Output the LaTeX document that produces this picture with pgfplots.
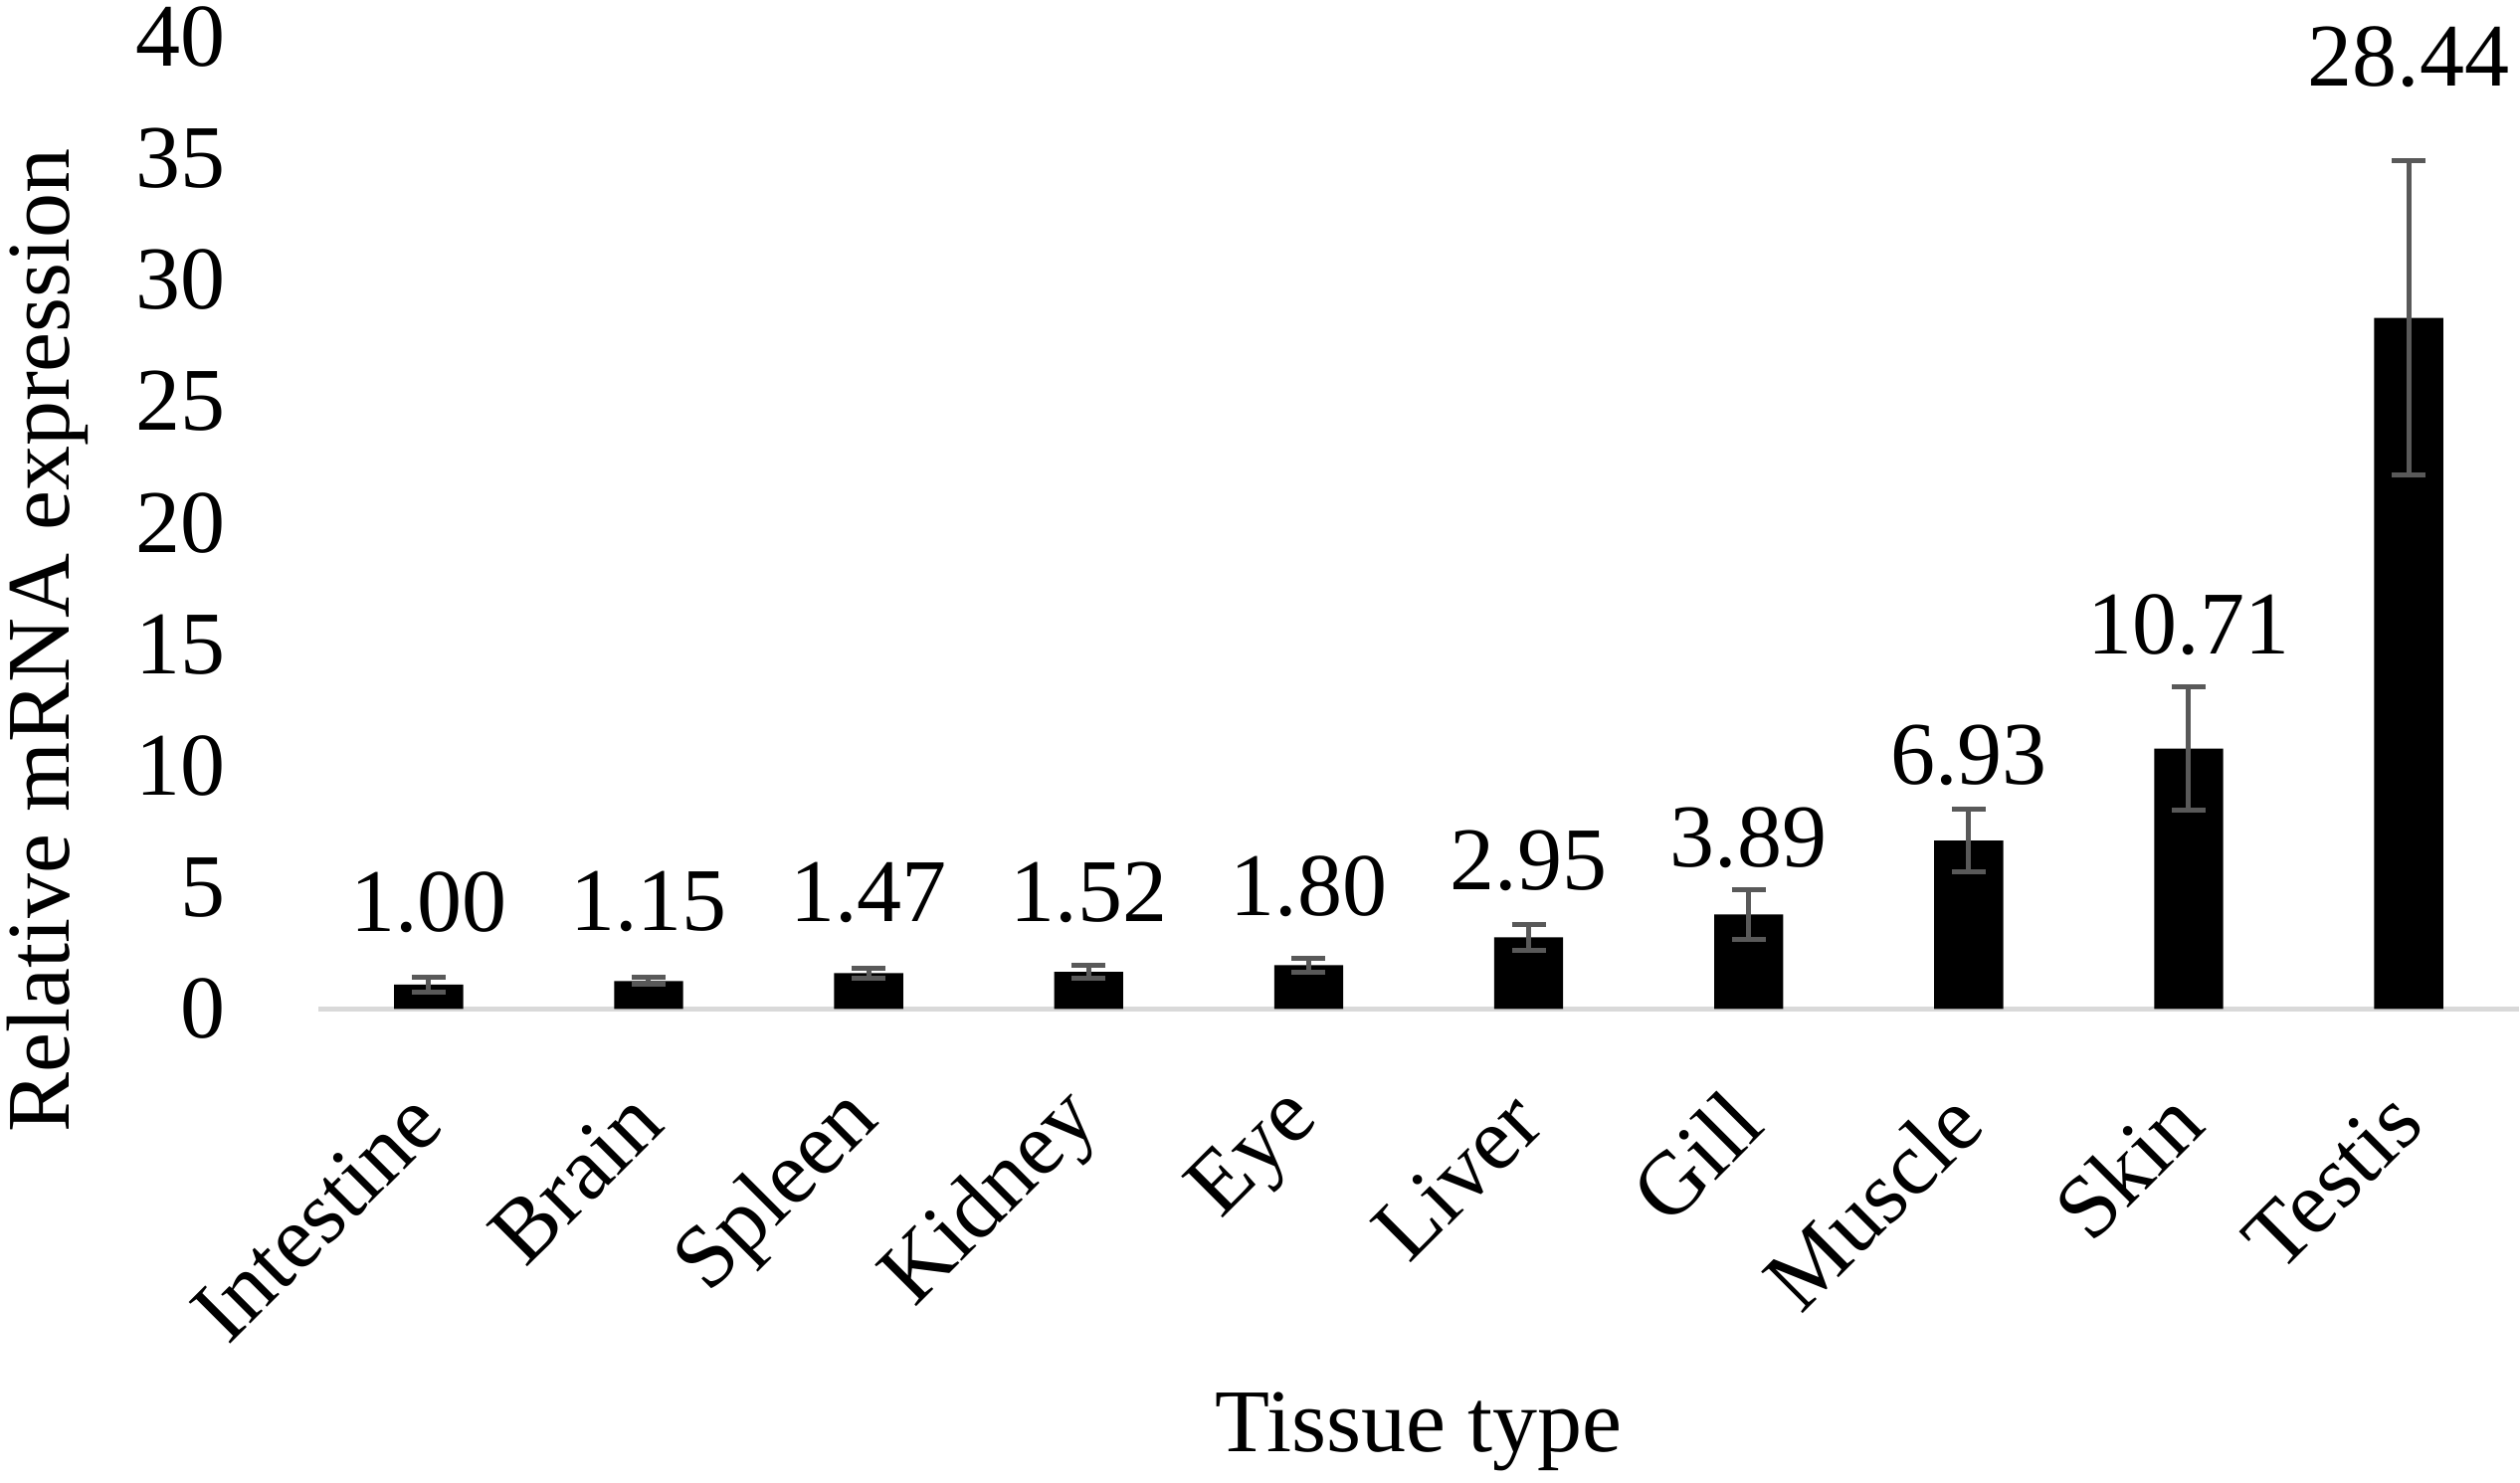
\documentclass[border=0pt]{standalone}
\usepackage{pgfplots}
\usepackage{pgfplotstable}
\usepackage{fontspec}
\setmainfont{Liberation Serif}
\pgfplotsset{compat=1.18}
\definecolor{axgray}{HTML}{D9D9D9}
\definecolor{errgray}{HTML}{595959}
\pgfplotstableread{
x  y     err   ly     lab
0  1.00  0.31  4.37   1.00
1  1.15  0.14  4.40   1.15
2  1.47  0.21  4.78   1.47
3  1.52  0.27  4.78   1.52
4  1.80  0.28  5.05   1.80
5  2.95  0.54  6.09   2.95
6  3.89  1.03  7.06   3.89
7  6.93  1.28  10.43  6.93
8  10.71 2.55  15.79  10.71
9  28.44 6.47  39.18  28.44
}\data
\begin{document}
\begin{tikzpicture}
\begin{axis}[
  name=ax,
  scale only axis,
  width=663.5pt, height=293.2pt,
  xmin=-0.5, xmax=9.5,
  ymin=0, ymax=40,
  ytick={0,5,...,40},
  xtick={0,...,9},
  xticklabels={Intestine,Brain,Spleen,Kidney,Eye,Liver,Gill,Muscle,Skin,Testis},
  font=\fontsize{27}{32}\selectfont,
  /pgf/number format/assume math mode=true,
  axis x line*=bottom, axis y line*=left,
  x axis line style={draw=axgray, line width=1.4pt, -},
  y axis line style={draw=none},
  major tick length=0pt,
  tick style={draw=none},
  yticklabel style={anchor=east, xshift=-24.5pt},
  xticklabel style={rotate=45, anchor=east, xshift=-18.1pt, yshift=-20.4pt},
  ylabel={Relative mRNA expression},
  ylabel style={at={(axis description cs:-0.1234,0.379)}, anchor=center, rotate=0},
  xlabel={Tissue type},
  xlabel style={at={(axis description cs:0.5,-0.435)}, anchor=center},
  clip=false,
]
\addplot[ybar, bar width=20.8pt, fill=black, draw=none,
  error bars/.cd, y dir=both, y explicit,
  error bar style={line width=1.5pt, color=errgray},
  error mark options={line width=1.5pt, mark size=5.1pt, color=errgray, rotate=90}]
  table[x=x, y=y, y error=err]{\data};
\addplot[draw=none, mark=none, nodes near coords, point meta=explicit symbolic,
  nodes near coords style={anchor=center, font=\fontsize{27}{32}\selectfont}]
  table[x=x, y=ly, meta=lab]{\data};
\end{axis}
\pgfresetboundingbox
\path[use as bounding box] ([xshift=-96.1pt,yshift=-143pt]ax.south west) rectangle ([xshift=0.4pt,yshift=11.15pt]ax.north east);
\end{tikzpicture}
\end{document}
